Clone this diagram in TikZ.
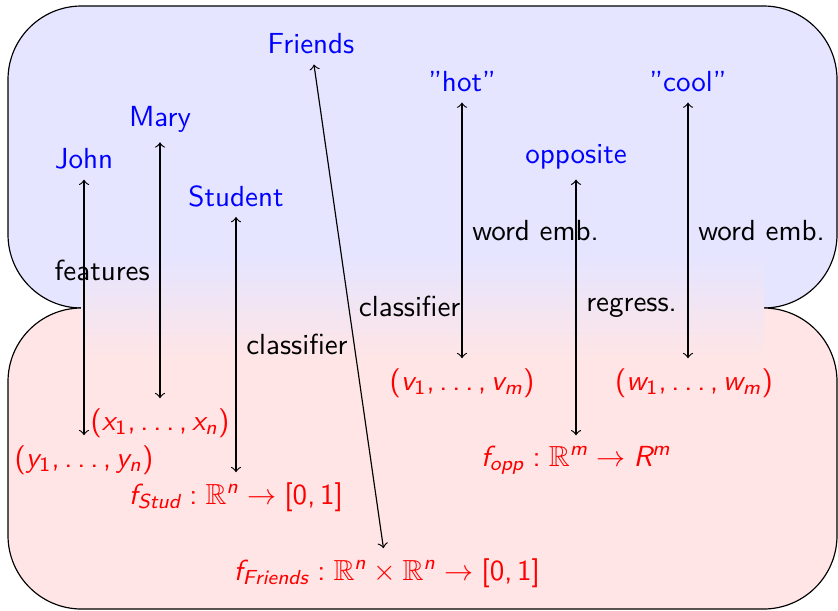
\documentclass[tikz,border=0pt]{standalone}
\usepackage{amsmath,amssymb}
\usepackage{tikz}
\usetikzlibrary{calc}
\renewcommand{\familydefault}{\sfdefault}
% sans serif math, as on slides
\SetSymbolFont{operators}{normal}{TU}{lmss}{m}{n}
\SetSymbolFont{letters}{normal}{TU}{lmss}{m}{sl}
\mathcode`\,="602C
\mathchardef\ldotp="602E

\begin{document}
\begin{tikzpicture}[x=0.0121cm, y=-0.0121cm,
  every node/.style={font=\sffamily},
  concept/.style={text=blue},
  vec/.style={text=red},
  link/.style={<->}]
  \useasboundingbox (0,0) rectangle (838,610);

  % the two layers
  \draw[fill=blue!10, rounded corners=0.89cm] (8,6) rectangle (837,308);
  \draw[fill=red!10, rounded corners=0.89cm] (8,308) rectangle (837,609);
  \shade[top color=blue!10, bottom color=red!10] (81,257) rectangle (764,360);

  % symbols
  \node[concept] (john) at (84,159) {John};
  \node[concept] (mary) at (160,119) {Mary};
  \node[concept] (stud) at (236,196) {Student};
  \node[concept] (friends) at (311,44) {Friends};
  \node[concept] (hot) at (462,82) {"hot''};
  \node[concept] (opp) at (576,157) {opposite};
  \node[concept] (cool) at (688,82) {"cool''};

  % groundings
  \node[vec] (x) at (160,423) {$(x_1,\dots,x_n)$};
  \node[vec] (y) at (84,460) {$(y_1,\dots,y_n)$};
  \node[vec] (fstud) at (236,497) {$f_{Stud}:\mathbb{R}^n\to[0,1]$};
  \node[vec] (ffriends) at (387,573) {$f_{Friends}:\mathbb{R}^n\times\mathbb{R}^n\to[0,1]$};
  \node[vec] (v) at (462,383) {$(v_1,\dots,v_m)$};
  \node[vec] (w) at (694,383) {$(w_1,\dots,w_m)$};
  \node[vec] (fopp) at (576,460) {$f_{opp}:\mathbb{R}^m\to R^m$};

  \draw[link] (john) -- (y);
  \draw[link] (mary) -- node[midway, left] {features} (x);
  \draw[link] (stud) -- node[midway, right] {classifier} (fstud);
  \draw[link] (friends) -- node[midway, right] {classifier} (ffriends);
  \draw[link] (hot) -- node[midway, right] {word emb.} (v);
  \draw[link] (opp) -- node[midway, right] {regress.} (fopp);
  \draw[link] (cool) -- node[midway, right] {word emb.} (cool |- w.north);
\end{tikzpicture}
\end{document}
